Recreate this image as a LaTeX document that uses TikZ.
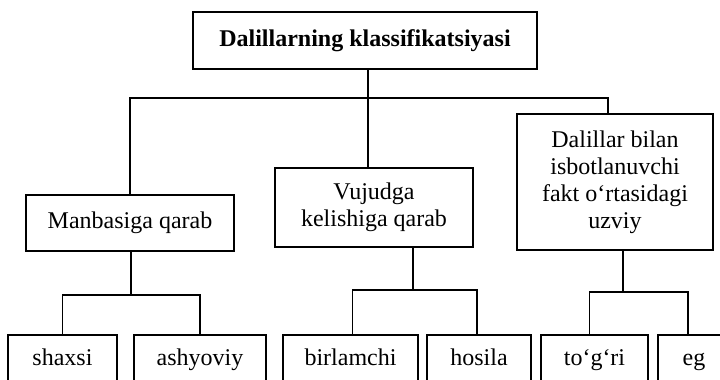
\documentclass[tikz,border=0pt]{standalone}
\usepackage{fontspec}
\setmainfont{Liberation Serif}
\begin{document}
\begin{tikzpicture}[x=0.5pt,y=-0.5pt,
  box/.style={draw,line width=0.9pt,inner sep=0pt,align=center,font=\fontsize{12}{13.5}\selectfont},
  leaf/.style={box,anchor=north,text height=15.5pt,text depth=25pt},
  link/.style={line width=0.9pt}]
\useasboundingbox (0,0) rectangle (720,380);
\clip (0,0) rectangle (720,380);
\node[box,minimum width=172pt,minimum height=28.5pt,font=\bfseries\fontsize{12}{13.5}\selectfont] (top) at (365,40.5) {Dalillarning klassifikatsiyasi};
\node[box,minimum width=104pt,minimum height=28pt] (m) at (130,223) {Manbasiga qarab};
\node[box,minimum width=99pt,minimum height=39.5pt] (v) at (374,207.5) {Vujudga\\kelishiga qarab};
\node[box,minimum width=98pt,minimum height=68pt] (d) at (615,182) {Dalillar bilan\\isbotlanuvchi\\fakt o‘rtasidagi\\uzviy};
\node[leaf,minimum width=54.5pt] (s1) at (62.5,334) {shaxsi};
\node[leaf,minimum width=66pt] (s2) at (200,334) {ashyoviy};
\node[leaf,minimum width=67.5pt] (b1) at (350.5,334) {birlamchi};
\node[leaf,minimum width=52pt] (b2) at (479,334) {hosila};
\node[leaf,minimum width=53.5pt] (t1) at (594.5,334) {to‘g‘ri};
\node[leaf,minimum width=36pt] (t2) at (694,334) {eg};
\coordinate (j1) at (368,98);
\coordinate (j2) at (608,98);
\coordinate (k1) at (131,295);
\coordinate (k2) at (413,290);
\coordinate (k3) at (623,292);
\draw[link] (top.south -| j1) -- (v.north -| j1);
\draw[link] (m.north) |- (j2) -- (d.north -| j2);
\draw[link] (m.south -| k1) -- (k1);
\draw[link] (s1.north) |- (k1) -| (s2.north);
\draw[link] (v.south -| k2) -- (k2);
\draw[link] ([xshift=1pt]b1.north) |- (k2) -| ([xshift=-1pt]b2.north);
\draw[link] (d.south -| k3) -- (k3);
\draw[link] ([xshift=-2.5pt]t1.north) |- (k3) -| ([xshift=-3pt]t2.north);
\end{tikzpicture}
\end{document}
